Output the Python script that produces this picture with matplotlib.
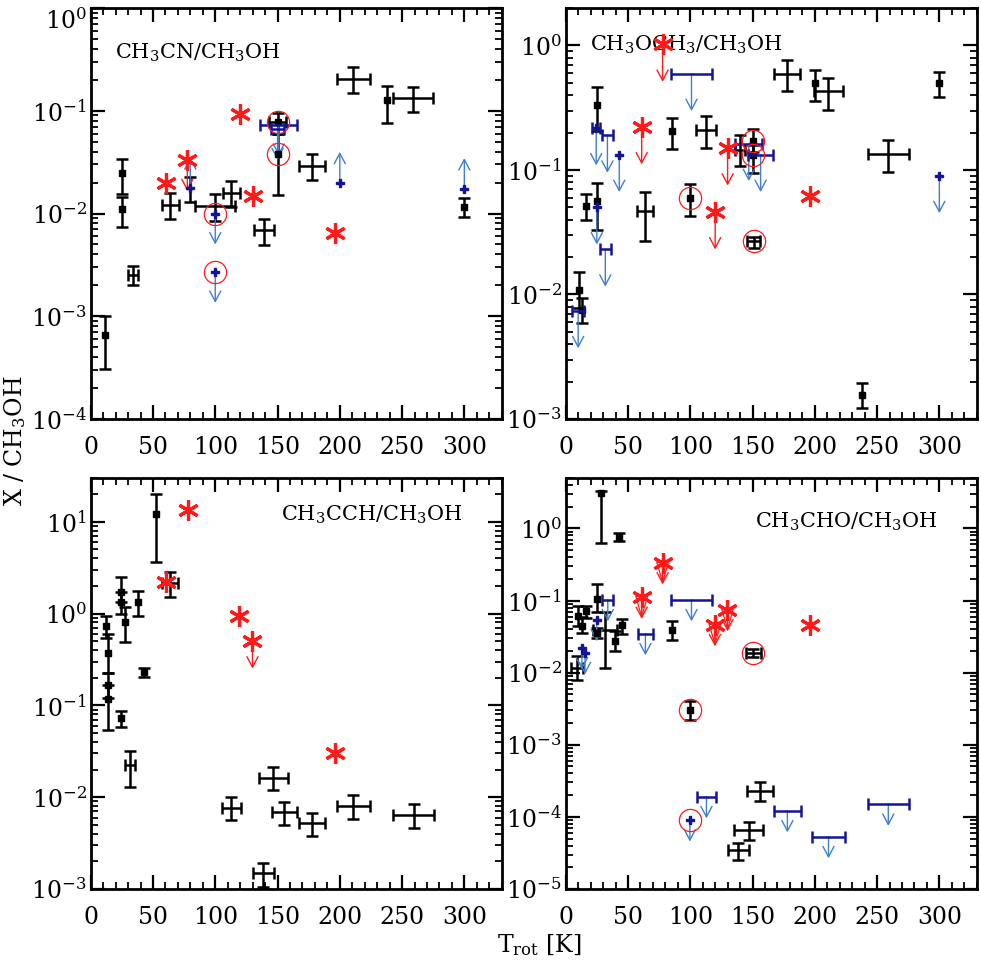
import numpy as np
import matplotlib
matplotlib.use('Agg')
import matplotlib.pyplot as plt
from matplotlib.ticker import LogLocator, MultipleLocator, LogFormatterSciNotation, NullFormatter

plt.rcParams['font.family'] = ['DejaVu Serif']
plt.rcParams['mathtext.fontset'] = 'dejavuserif'

# ---------------- CH3CN / CH3OH (top left) ----------------
cn_det_T = [11.5, 25, 25, 34, 64, 80, 100, 113, 139, 150, 150, 178, 211, 238, 259, 300]
cn_det_Terr = [0, 0, 0, 4, 7, 0, 16, 7, 8, 7, 0, 10.5, 13, 0, 16, 0]
cn_det_y = [6.6e-4, 0.0246, 0.011, 0.0025, 0.0121, 0.0177, 0.0118, 0.0159, 0.0069, 0.078, 0.038, 0.029, 0.204, 0.127, 0.132, 0.0116]
cn_det_lo = [3.1e-4, 0.0155, 0.0074, 0.0020, 0.0089, 0.013, 0.0085, 0.0116, 0.0049, 0.060, 0.015, 0.0212, 0.15, 0.0755, 0.0966, 0.0092]
cn_det_hi = [1.0e-3, 0.034, 0.0146, 0.0031, 0.0159, 0.0228, 0.0155, 0.0207, 0.0088, 0.096, 0.060, 0.038, 0.268, 0.174, 0.171, 0.0143]
cn_det_sq = [1, 1, 1, 0, 0, 0, 0, 0, 0, 1, 1, 0, 0, 1, 0, 1]
cn_red_T = [60.3, 77.6, 120, 130, 196]
cn_red_y = [0.0199, 0.033, 0.092, 0.0148, 0.0064]
cn_red_lim = [0, 1, 0, 0, 0]
cn_blue_T = [80, 100, 100, 151, 150, 200, 300]
cn_blue_Terr = [0, 0, 0, 15, 5, 0, 0]
cn_blue_y = [0.0176, 0.01, 0.0027, 0.073, 0.066, 0.0199, 0.0173]
cn_blue_dir = [1, -1, -1, -1, -1, 1, 1]
cn_blue_star = [1, 1, 1, 0, 0, 1, 1]
cn_circ_T = [100, 100, 150, 150]
cn_circ_y = [0.01, 0.0027, 0.078, 0.038]

# ---------------- CH3OCH3 / CH3OH (top right) ----------------
dme_det_T = [10.7, 12.8, 16, 25, 25, 63.6, 85, 100, 113, 140, 150, 150, 151, 178, 200, 211, 238, 259, 300]
dme_det_Terr = [0, 0, 0, 0, 0, 6.4, 0, 0, 8, 4.3, 0, 0, 5.3, 10.4, 0, 12, 0, 16.3, 0]
dme_det_y = [0.0109, 0.0075, 0.0516, 0.335, 0.056, 0.0465, 0.205, 0.06, 0.211, 0.146, 0.17, 0.133, 0.0267, 0.595, 0.5, 0.429, 0.00156, 0.1345, 0.5]
dme_det_lo = [0.0078, 0.0059, 0.0398, 0.205, 0.0327, 0.0271, 0.147, 0.043, 0.150, 0.107, 0.14, 0.0946, 0.0236, 0.429, 0.356, 0.306, 0.00122, 0.0957, 0.387]
dme_det_hi = [0.0151, 0.0093, 0.064, 0.465, 0.0786, 0.0665, 0.262, 0.077, 0.27, 0.192, 0.215, 0.16, 0.0292, 0.771, 0.641, 0.55, 0.00193, 0.173, 0.614]
dme_det_sq = [1, 1, 1, 1, 1, 0, 1, 1, 0, 0, 1, 1, 0, 0, 1, 0, 1, 0, 1]
dme_red_T = [77.8, 61, 130, 120, 196]
dme_red_y = [1.02, 0.222, 0.15, 0.046, 0.0613]
dme_red_lim = [1, 1, 1, 1, 0]
dme_blue_T = [10, 24.5, 33.5, 43, 25, 31.8, 101, 147, 156.5, 300]
dme_blue_Terr = [5, 3, 4.7, 0, 0, 4.3, 16.5, 11, 10, 0]
dme_blue_y = [0.0074, 0.218, 0.19, 0.133, 0.0504, 0.0231, 0.595, 0.163, 0.133, 0.09]
dme_blue_dir = [-1, -1, -1, -1, -1, -1, -1, -1, -1, -1]
dme_blue_star = [0, 1, 0, 1, 1, 0, 0, 0, 0, 1]
dme_circ_T = [100, 150, 150, 151]
dme_circ_y = [0.06, 0.17, 0.133, 0.0267]

# ---------------- CH3CCH / CH3OH (bottom left) ----------------
pr_det_T = [12, 14, 14, 14, 24.5, 24.5, 27.6, 37.7, 42.8, 24.4, 31.6, 52.5, 63.7, 112.7, 146.7, 138.7, 155.6, 177.6, 211, 259.2]
pr_det_Terr = [0, 0, 0, 0, 0, 0, 0, 0, 0, 0, 4.3, 0, 6.3, 7.6, 11.4, 8.6, 10.4, 10.4, 13.4, 16.3]
pr_det_y = [0.74, 0.376, 0.167, 0.117, 1.74, 1.33, 0.82, 1.35, 0.233, 0.072, 0.0224, 12.1, 2.14, 0.00755, 0.0163, 0.00148, 0.00683, 0.00518, 0.00805, 0.00638]
pr_det_lo = [0.54, 0.228, 0.12, 0.054, 1.35, 1.0, 0.495, 0.93, 0.205, 0.0587, 0.013, 3.69, 1.51, 0.0056, 0.0119, 0.00105, 0.00497, 0.0038, 0.00577, 0.00463]
pr_det_hi = [0.95, 0.60, 0.228, 0.167, 2.5, 1.74, 1.17, 1.77, 0.257, 0.087, 0.0318, 20.2, 2.87, 0.00995, 0.0215, 0.0019, 0.0089, 0.0068, 0.01055, 0.00834]
pr_det_sq = [1, 1, 1, 1, 1, 1, 1, 1, 1, 1, 0, 1, 0, 0, 0, 0, 0, 0, 0, 0]
pr_red_T = [77.9, 60.5, 119.4, 129.9, 195.8]
pr_red_y = [13.3, 2.2, 0.93, 0.503, 0.0305]
pr_red_lim = [0, 0, 0, 1, 0]
pr_blue_T = []
pr_blue_Terr = []
pr_blue_y = []
pr_blue_dir = []
pr_blue_star = []
pr_circ_T = []
pr_circ_y = []

# ---------------- CH3CHO / CH3OH (bottom right) ----------------
ac_det_T = [28.1, 43, 9.3, 10.1, 12.8, 16, 24.9, 24.9, 31.5, 39.5, 45.4, 85, 99.7, 150.5, 155.9, 147, 138.5]
ac_det_Terr = [0, 0, 4.7, 0, 0, 0, 0, 0, 9.4, 0, 0, 0, 0, 6, 10.7, 11.6, 8.4]
ac_det_y = [3.06, 0.758, 0.0116, 0.0606, 0.044, 0.071, 0.105, 0.0356, 0.0396, 0.0272, 0.0454, 0.0396, 0.003, 0.0188, 2.25e-4, 6.6e-5, 3.48e-5]
ac_det_lo = [0.633, 0.667, 0.008, 0.045, 0.036, 0.058, 0.07, 0.030, 0.0116, 0.0198, 0.0348, 0.0287, 0.00218, 0.0165, 1.67e-4, 4.8e-5, 2.53e-5]
ac_det_hi = [3.3, 0.87, 0.0168, 0.083, 0.06, 0.083, 0.167, 0.042, 0.069, 0.0375, 0.0557, 0.0516, 0.004, 0.0214, 3.0e-4, 8.4e-5, 4.4e-5]
ac_det_sq = [1, 1, 0, 1, 1, 1, 1, 1, 0, 1, 1, 1, 1, 0, 0, 0, 0]
ac_red_T = [61, 77.8, 119.8, 129.9, 196]
ac_red_y = [0.111, 0.334, 0.0464, 0.075, 0.0464]
ac_red_lim = [1, 1, 1, 1, 0]
ac_blue_T = [13, 15.5, 24.9, 33.8, 64, 101, 99.7, 113, 178, 211, 259]
ac_blue_Terr = [0, 0, 0, 4.4, 6.3, 16.5, 0, 7.5, 10.7, 13.6, 16.3]
ac_blue_y = [0.022, 0.019, 0.0545, 0.103, 0.0348, 0.103, 9.1e-5, 1.91e-4, 1.22e-4, 5.33e-5, 1.5e-4]
ac_blue_dir = [-1, -1, -1, -1, -1, -1, -1, -1, -1, -1, -1]
ac_blue_star = [1, 1, 1, 0, 0, 0, 1, 0, 0, 0, 0]
ac_circ_T = [99.7, 150.5, 99.7]
ac_circ_y = [0.003, 0.0188, 9.1e-5]

x_ticks = [0, 50, 100, 150, 200, 250, 300]

# ---------------- style ----------------
RED = '#ff1a1a'
NAVY = '#141496'
ABLUE = '#3f7fcf'
ARROW_FACTOR = 2.0
XLIM = (0, 330)


def arrow(ax, x, y, direction, color, kite=False):
    y2 = y * ARROW_FACTOR if direction > 0 else y / ARROW_FACTOR
    ax.annotate('', xy=(x, y2), xytext=(x, y),
                arrowprops=dict(arrowstyle='->,head_length=0.75,head_width=0.4',
                                color=color, lw=1.0, shrinkA=0, shrinkB=0))
    if kite:
        ax.annotate('', xy=(x, y2), xytext=(x, y),
                    arrowprops=dict(arrowstyle='-|>,head_length=1.45,head_width=0.42',
                                    color=color, fc='none', lw=0.9, shrinkA=0, shrinkB=0))


def panel(ax, det, red, blue, circ, ylim, label, lx, ly, ha, kite=False):
    T, Te, y, lo, hi, sq = [np.asarray(a, float) for a in det]
    for i in range(len(T)):
        ax.errorbar(T[i], y[i], yerr=[[y[i] - lo[i]], [hi[i] - y[i]]],
                    xerr=(Te[i] if Te[i] > 0 else None), fmt='none',
                    ecolor='black', elinewidth=1.8, capsize=4, capthick=1.8, zorder=3)
    m = sq > 0
    ax.plot(T[m], y[m], 's', ms=4.5, color='black', ls='none', zorder=4)

    bT, bTe, by, bdir, bstar = [np.asarray(a, float) for a in blue]
    for i in range(len(bT)):
        arrow(ax, bT[i], by[i], bdir[i], ABLUE)
        if bTe[i] > 0:
            ax.errorbar(bT[i], by[i], xerr=bTe[i], fmt='none', ecolor=NAVY,
                        elinewidth=1.8, capsize=4, capthick=1.8, zorder=5)
    if len(bT):
        mb = bstar > 0
        ax.plot(bT[mb], by[mb], 'P', ms=6, color=NAVY, ls='none', zorder=6)

    rT, ry, rlim = [np.asarray(a, float) for a in red]
    for i in range(len(rT)):
        if rlim[i] > 0:
            arrow(ax, rT[i], ry[i], -1, RED, kite=kite)
    ax.plot(rT, ry, marker=(6, 2, 0), ms=15, mew=2.3, color=RED, ls='none', zorder=7)

    cT, cy = [np.asarray(a, float) for a in circ]
    if len(cT):
        ax.plot(cT, cy, 'o', mfc='none', mec=RED, ms=16, mew=0.9, ls='none', zorder=8)

    ax.set_yscale('log')
    ax.set_ylim(*ylim)
    ax.set_xlim(*XLIM)
    ax.set_xticks(x_ticks)
    ax.xaxis.set_minor_locator(MultipleLocator(10))
    ax.yaxis.set_major_locator(LogLocator(base=10, numticks=20))
    ax.yaxis.set_minor_locator(LogLocator(base=10, subs=np.arange(2, 10), numticks=50))
    ax.yaxis.set_major_formatter(LogFormatterSciNotation())
    ax.yaxis.set_minor_formatter(NullFormatter())
    ax.tick_params(which='both', direction='in', top=True, right=True, labelsize=17)
    ax.tick_params(which='major', length=10, width=1.6)
    ax.tick_params(which='minor', length=5, width=1.3)
    ax.tick_params(axis='x', which='major', pad=12)
    ax.tick_params(axis='y', which='major', pad=3)
    for s in ax.spines.values():
        s.set_linewidth(2.0)
    ax.text(lx, ly, label, transform=ax.transAxes, fontsize=15, ha=ha, va='center')


fig = plt.figure(figsize=(9.81, 9.67), dpi=100)
W, H = 981.0, 967.0
axw, axh = 411 / W, 411 / H
ax1 = fig.add_axes([90.7 / W, 1 - 419 / H, axw, axh])
ax2 = fig.add_axes([565.7 / W, 1 - 419 / H, axw, axh])
ax3 = fig.add_axes([90.7 / W, 1 - 889 / H, axw, axh])
ax4 = fig.add_axes([565.7 / W, 1 - 889 / H, axw, axh])

panel(ax1, (cn_det_T, cn_det_Terr, cn_det_y, cn_det_lo, cn_det_hi, cn_det_sq),
      (cn_red_T, cn_red_y, cn_red_lim),
      (cn_blue_T, cn_blue_Terr, cn_blue_y, cn_blue_dir, cn_blue_star),
      (cn_circ_T, cn_circ_y), (1e-4, 1.0), 'CH$_3$CN/CH$_3$OH', 0.059, 0.89, 'left')
panel(ax2, (dme_det_T, dme_det_Terr, dme_det_y, dme_det_lo, dme_det_hi, dme_det_sq),
      (dme_red_T, dme_red_y, dme_red_lim),
      (dme_blue_T, dme_blue_Terr, dme_blue_y, dme_blue_dir, dme_blue_star),
      (dme_circ_T, dme_circ_y), (1e-3, 2.0), 'CH$_3$OCH$_3$/CH$_3$OH', 0.059, 0.91, 'left')
panel(ax3, (pr_det_T, pr_det_Terr, pr_det_y, pr_det_lo, pr_det_hi, pr_det_sq),
      (pr_red_T, pr_red_y, pr_red_lim),
      (pr_blue_T, pr_blue_Terr, pr_blue_y, pr_blue_dir, pr_blue_star),
      (pr_circ_T, pr_circ_y), (1e-3, 30.0), 'CH$_3$CCH/CH$_3$OH', 0.906, 0.91, 'right')
panel(ax4, (ac_det_T, ac_det_Terr, ac_det_y, ac_det_lo, ac_det_hi, ac_det_sq),
      (ac_red_T, ac_red_y, ac_red_lim),
      (ac_blue_T, ac_blue_Terr, ac_blue_y, ac_blue_dir, ac_blue_star),
      (ac_circ_T, ac_circ_y), (1e-5, 5.0), 'CH$_3$CHO/CH$_3$OH', 0.906, 0.893, 'right',
      kite=True)

fig.text(0.015, 0.544, 'X / CH$_3$OH', rotation=90, ha='center', va='center', fontsize=17)
fig.text(0.55, 0.023, 'T$_{\\rm rot}$ [K]', ha='center', va='center', fontsize=17)

# keep the top-left "10^0" label inside the figure (it sits at the very top edge)
fig.canvas.draw()
for t in ax1.yaxis.get_major_ticks():
    loc = t.get_loc()
    if loc is not None and loc > 0 and abs(np.log10(loc)) < 1e-6:
        t.label1.set_verticalalignment('top')

fig.savefig('out.png', dpi=100)
